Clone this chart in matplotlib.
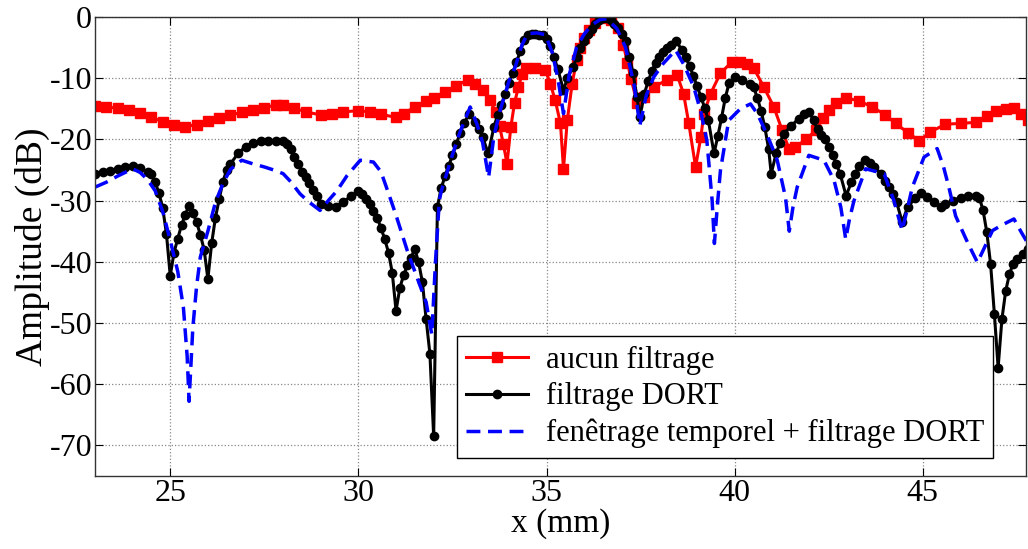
import numpy as np
import matplotlib
matplotlib.use("Agg")
from matplotlib import pyplot as plt

# aucun filtrage (red squares)
rx = [23.0, 23.3, 23.6, 23.9, 24.2, 24.5, 24.8, 25.1, 25.4, 25.7, 26.0, 26.3, 26.6, 26.9,
      27.2, 27.5, 27.8, 28.0, 28.3, 28.6, 29.0, 29.3, 29.6, 30.0, 30.3, 30.6, 31.0, 31.2,
      31.5, 31.8, 32.0, 32.3, 32.6, 32.9, 33.1, 33.3, 33.5, 33.65, 33.75, 33.85, 33.95,
      34.05, 34.15, 34.25, 34.35, 34.45, 34.7, 34.97, 35.1, 35.23, 35.37, 35.45, 35.55,
      35.68, 35.8, 35.9, 36.0, 36.12, 36.3, 36.5, 36.7, 36.9, 37.04, 37.15, 37.25, 37.41,
      37.58, 37.85, 38.2, 38.47, 38.64, 38.78, 38.96, 39.1, 39.18, 39.36, 39.62, 39.93,
      40.15, 40.33, 40.51, 40.77, 41.04, 41.26, 41.44, 41.6, 41.9, 42.15, 42.35, 42.5,
      42.7, 42.95, 43.3, 43.66, 44.0, 44.28, 44.6, 44.9, 45.2, 45.6, 46.0, 46.4, 46.7,
      46.94, 47.2, 47.42, 47.6, 47.8]
ry = [-14.6, -14.7, -14.9, -15.2, -15.7, -16.4, -17.1, -17.6, -17.9, -17.6, -17.0, -16.5,
      -16.0, -15.6, -15.2, -14.8, -14.4, -14.3, -14.9, -15.5, -16.0, -15.8, -15.5, -15.3,
      -15.5, -15.9, -16.4, -15.8, -14.7, -13.8, -13.2, -12.2, -11.2, -10.3, -10.9, -12.0,
      -13.6, -15.6, -17.8, -20.7, -24.0, -18.0, -14.0, -11.5, -9.3, -8.4, -8.4, -8.7,
      -10.9, -13.6, -17.4, -24.8, -16.9, -10.9, -7.0, -5.0, -3.5, -2.1, -1.0, -0.1, -0.5,
      -1.8, -4.5, -7.5, -10.2, -14.1, -13.1, -11.4, -10.3, -9.5, -12.5, -17.4, -24.5,
      -19.6, -15.8, -12.5, -9.2, -7.3, -7.3, -7.6, -8.4, -11.4, -14.7, -18.5, -21.5,
      -21.3, -20.0, -18.5, -16.5, -15.2, -14.0, -13.2, -13.7, -14.7, -16.0, -17.4, -18.9,
      -20.2, -18.8, -17.5, -17.4, -17.2, -16.2, -15.4, -15.1, -14.9, -15.8, -16.9]

# filtrage DORT (black circles)
bx = [23.0, 23.2, 23.4, 23.6, 23.8, 24.0, 24.2, 24.4, 24.5, 24.6, 24.7, 24.8, 24.9, 25.0,
      25.1, 25.2, 25.3, 25.4, 25.5, 25.6, 25.7, 25.8, 25.9, 26.0, 26.1, 26.2, 26.3, 26.4,
      26.5, 26.6, 26.8, 27.0, 27.2, 27.4, 27.6, 27.8, 28.0, 28.1, 28.2, 28.3, 28.4, 28.5,
      28.6, 28.7, 28.8, 28.9, 29.0, 29.2, 29.4, 29.6, 29.8, 30.0, 30.1, 30.2, 30.3, 30.4,
      30.5, 30.6, 30.7, 30.8, 30.9, 31.0, 31.1, 31.2, 31.3, 31.4, 31.5, 31.6, 31.7, 31.8,
      31.9, 32.0, 32.1, 32.2, 32.3, 32.4, 32.5, 32.6, 32.7, 32.8, 32.95, 33.1, 33.2, 33.3,
      33.45, 33.6, 33.7, 33.8, 33.9, 34.0, 34.1, 34.2, 34.3, 34.4, 34.5, 34.6, 34.7, 34.8,
      34.9, 35.0, 35.1, 35.2, 35.3, 35.45, 35.55, 35.7, 35.8, 35.9, 36.0, 36.1, 36.2, 36.3,
      36.4, 36.5, 36.6, 36.7, 36.8, 36.9, 37.0, 37.1, 37.2, 37.3, 37.4, 37.48, 37.6, 37.7,
      37.8, 37.9, 38.0, 38.1, 38.2, 38.3, 38.45, 38.6, 38.7, 38.8, 38.9, 39.0, 39.1, 39.2,
      39.3, 39.45, 39.55, 39.65, 39.75, 39.85, 40.0, 40.2, 40.4, 40.5, 40.6, 40.7, 40.8,
      40.9, 40.97, 41.1, 41.2, 41.3, 41.5, 41.7, 41.85, 41.97, 42.1, 42.2, 42.3, 42.4,
      42.5, 42.6, 42.7, 42.8, 42.96, 43.1, 43.2, 43.3, 43.45, 43.6, 43.7, 43.9, 44.0,
      44.1, 44.2, 44.3, 44.45, 44.6, 44.8, 44.95, 45.1, 45.3, 45.47, 45.6, 45.8, 46.0,
      46.2, 46.4, 46.5, 46.6, 46.7, 46.8, 46.9, 47.0, 47.1, 47.2, 47.3, 47.4, 47.5, 47.65,
      47.8]
by = [-25.6, -25.4, -25.1, -24.8, -24.5, -24.3, -24.7, -25.3, -25.6, -27.0, -28.8, -31.2,
      -35.5, -42.3, -38.5, -36.2, -34.0, -32.3, -30.8, -32.0, -33.5, -35.6, -38.0, -42.8,
      -37.0, -32.8, -29.8, -26.9, -25.0, -24.0, -22.3, -21.2, -20.6, -20.3, -20.2, -20.2,
      -20.3, -20.8, -21.6, -22.9, -24.1, -25.3, -26.2, -27.1, -28.2, -29.3, -30.5, -30.8,
      -31.0, -30.2, -29.3, -28.4, -29.0, -29.8, -30.6, -31.7, -32.8, -34.5, -36.3, -38.5,
      -41.8, -48.0, -44.3, -42.2, -40.6, -39.3, -37.9, -40.1, -43.3, -49.4, -55.0, -68.5,
      -31.0, -28.0, -26.0, -24.3, -22.6, -20.8, -19.0, -17.4, -15.8, -17.2, -18.3, -19.6,
      -22.3, -18.0, -16.0, -14.4, -12.5, -10.8, -9.2, -7.4, -5.6, -3.8, -3.0, -2.8, -2.8,
      -2.9, -3.0, -3.6, -4.8, -6.6, -8.5, -12.0, -10.0, -8.2, -6.6, -5.1, -3.9, -2.8, -1.9,
      -1.1, -0.5, -0.1, -0.1, -0.5, -1.1, -1.8, -2.8, -4.0, -6.5, -9.2, -13.0, -16.3,
      -12.5, -10.5, -8.8, -7.5, -6.5, -5.7, -5.1, -4.6, -4.0, -5.4, -6.6, -8.0, -9.6,
      -11.3, -13.0, -14.8, -16.9, -22.3, -19.5, -16.5, -13.2, -10.8, -9.8, -10.3, -10.9,
      -11.4, -13.2, -15.3, -18.0, -21.5, -25.6, -22.3, -20.6, -19.1, -17.8, -16.6, -15.9,
      -15.5, -16.9, -18.3, -19.2, -20.0, -21.3, -22.5, -24.0, -25.6, -29.2, -27.0, -25.6,
      -24.3, -23.3, -23.9, -24.5, -25.6, -26.8, -27.8, -29.0, -30.2, -33.5, -31.0, -29.6,
      -28.8, -29.4, -30.3, -31.1, -30.5, -30.0, -29.5, -29.3, -29.2, -29.5, -31.6, -35.2,
      -40.4, -48.5, -57.3, -49.4, -44.8, -42.0, -40.3, -39.6, -38.7, -37.9]

# fenetrage temporel + filtrage DORT (blue dashed)
gx = [23.0, 23.3, 23.6, 24.0, 24.2, 24.4, 24.6, 24.8, 25.0, 25.2, 25.35, 25.45, 25.5, 25.6,
      25.7, 25.8, 26.0, 26.2, 26.4, 26.6, 26.9, 27.2, 27.5, 27.8, 28.0, 28.2, 28.45, 28.7,
      28.98, 29.2, 29.43, 29.7, 30.05, 30.4, 30.6, 30.8, 31.0, 31.3, 31.56, 31.8, 31.95,
      32.05, 32.15, 32.2, 32.35, 32.5, 32.7, 32.97, 33.15, 33.3, 33.46, 33.6, 33.77, 34.0,
      34.17, 34.35, 34.5, 34.75, 34.97, 35.15, 35.3, 35.45, 35.6, 35.8, 36.0, 36.2, 36.43,
      36.6, 36.87, 37.1, 37.32, 37.48, 37.65, 37.85, 38.1, 38.43, 38.65, 38.91, 39.1,
      39.26, 39.4, 39.46, 39.55, 39.62, 39.84, 40.15, 40.42, 40.6, 40.77, 40.95, 41.13,
      41.35, 41.45, 41.55, 41.66, 41.97, 42.37, 42.64, 42.82, 42.95, 43.05, 43.17, 43.48,
      43.97, 44.23, 44.45, 44.6, 44.72, 45.03, 45.38, 45.55, 45.69, 45.87, 46.0, 46.2,
      46.45, 46.65, 46.85, 47.1, 47.42, 47.6, 47.8]
gy = [-27.8, -27.0, -26.0, -24.8, -25.4, -26.6, -28.4, -31.8, -36.5, -41.6, -47.5, -55.5,
      -62.8, -50.8, -44.0, -39.2, -35.0, -30.3, -27.2, -24.9, -23.4, -24.0, -24.5, -25.1,
      -25.6, -26.9, -28.9, -30.3, -31.6, -30.0, -28.4, -25.9, -23.4, -23.7, -25.3, -28.8,
      -32.4, -38.2, -42.6, -46.6, -51.9, -39.8, -30.0, -28.5, -25.5, -22.5, -18.8, -14.7,
      -17.5, -20.5, -26.2, -19.5, -15.2, -10.5, -8.1, -4.5, -2.7, -2.6, -2.9, -5.8, -10.0,
      -15.8, -9.5, -4.9, -2.8, -1.3, -0.4, -0.3, -1.9, -5.0, -10.9, -17.7, -12.8, -9.8,
      -7.6, -5.4, -7.8, -11.4, -15.5, -20.2, -30.0, -37.0, -30.0, -25.1, -16.9, -15.0,
      -14.2, -15.8, -18.0, -20.6, -23.4, -29.5, -35.0, -31.0, -27.8, -22.6, -23.4, -26.7,
      -31.1, -36.3, -33.0, -30.0, -24.8, -25.6, -30.0, -34.9, -31.0, -27.8, -22.9, -21.5,
      -24.5, -27.8, -32.5, -34.3, -37.0, -40.1, -37.5, -34.9, -34.0, -33.0, -35.0, -37.1]

labels = ['aucun filtrage', 'filtrage DORT', 'fenêtrage temporel + filtrage DORT']

plt.rcParams['font.family'] = ['Liberation Serif', 'DejaVu Serif']
plt.rcParams['axes.unicode_minus'] = False

fig = plt.figure(figsize=(10.28, 5.49), dpi=100)
ax = fig.add_axes([0.0924, 0.133, 0.906, 0.836])

ax.plot(rx, ry, '-s', color='red', lw=2.2, ms=6.5, mfc='red', mec='red', label=labels[0])
ax.plot(bx, by, '-o', color='black', lw=2.2, ms=6, mfc='black', mec='black', label=labels[1])
ax.plot(gx, gy, '--', color='blue', lw=2.5, dashes=(4, 2.2), label=labels[2])

ax.set_xlim(23, 47.75)
ax.set_ylim(-75, 0)
ax.set_xticks([25, 30, 35, 40, 45])
ax.set_yticks([0, -10, -20, -30, -40, -50, -60, -70])
ax.grid(True, linestyle=':', color='#888888', lw=0.9)
ax.tick_params(direction='in', length=6, labelsize=23, top=True, right=True, pad=2)
for s in ax.spines.values():
    s.set_linewidth(1.0)
    s.set_color('#333333')

ax.set_xlabel('x (mm)', fontsize=24, labelpad=0)
ax.set_ylabel('Amplitude (dB)', fontsize=27, labelpad=0)

leg = ax.legend(loc='lower left', bbox_to_anchor=(0.389, 0.04), fontsize=22,
                fancybox=False, framealpha=1, edgecolor='black', handlelength=2.0,
                handletextpad=0.6, borderpad=0.3, labelspacing=0.25, borderaxespad=0)
leg.get_frame().set_linewidth(1.0)

fig.savefig('out.png', dpi=100)
